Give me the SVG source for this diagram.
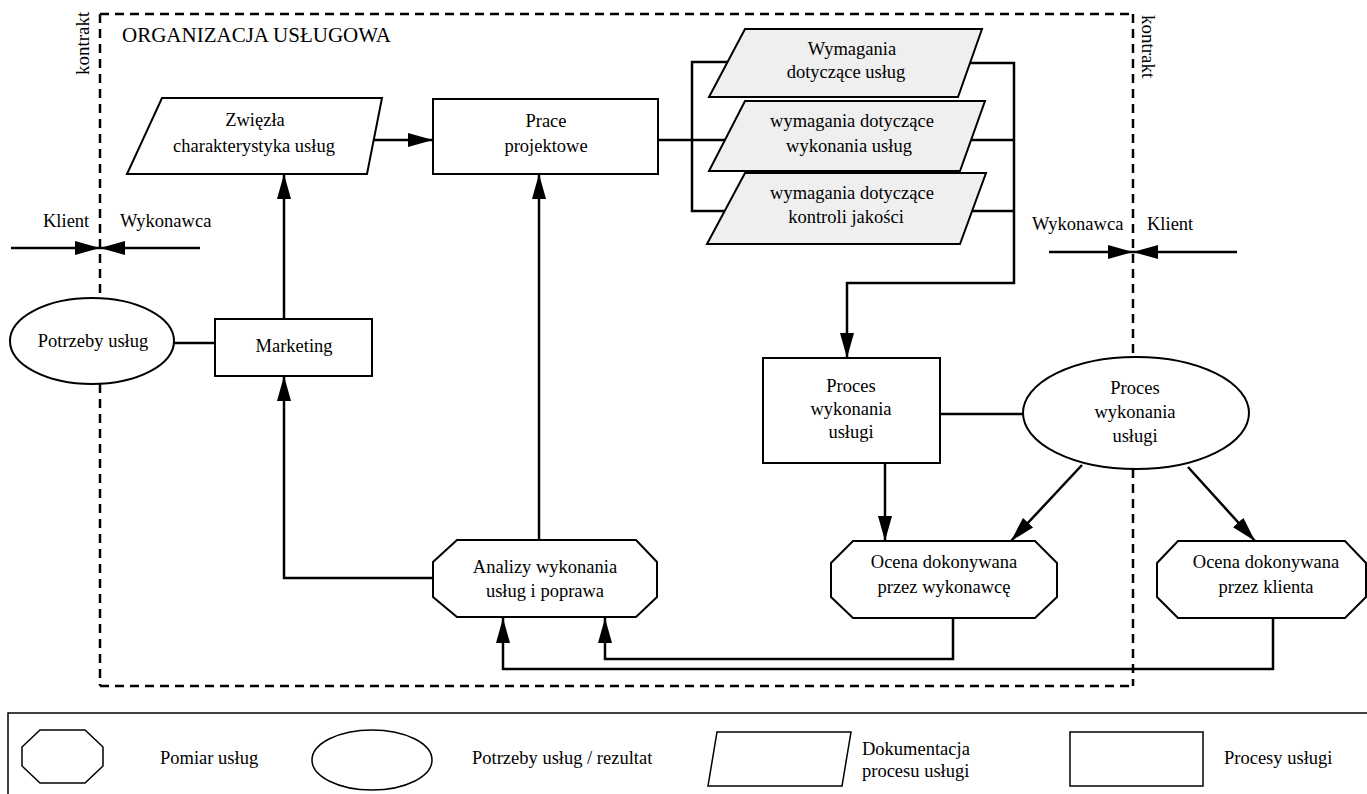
<svg xmlns="http://www.w3.org/2000/svg" width="1367" height="794" viewBox="0 0 1367 794" font-family="'Liberation Serif', 'DejaVu Serif', serif">
<style>
text{font-family:"Liberation Serif","DejaVu Serif",serif;font-size:18.5px;fill:#000}
.c{text-anchor:middle}
.shape{fill:#fff;stroke:#000;stroke-width:2}
.doc{fill:#efefef;stroke:#000;stroke-width:2}
.ln{fill:none;stroke:#000;stroke-width:2.5}
.dash{fill:none;stroke:#000;stroke-width:2.5;stroke-dasharray:9 6}
.thin{fill:none;stroke:#000;stroke-width:1.5}
</style>
<defs>
<marker id="ah" markerUnits="userSpaceOnUse" markerWidth="25" markerHeight="14" refX="25" refY="7" orient="auto">
<path d="M0,0 L25,7 L0,14 z" fill="#000"/>
</marker>
</defs>
<rect width="1367" height="794" fill="#fff"/>

<g id="frame">
<line class="dash" x1="100" y1="14" x2="1133" y2="14"/>
<line class="dash" x1="100" y1="14" x2="100" y2="298"/>
<line class="dash" x1="100" y1="384" x2="100" y2="686"/>
<line class="dash" x1="1133" y1="14" x2="1133" y2="358"/>
<line class="dash" x1="1133" y1="469" x2="1133" y2="686"/>
<line class="dash" x1="100" y1="686" x2="1133" y2="686"/>
<text x="122" y="42" font-family="'Liberation Serif', serif" style="font-size:21px">ORGANIZACJA USŁUGOWA</text>
<text transform="translate(89,75) rotate(-90)" style="font-size:19px">kontrakt</text>
<text transform="translate(1142,15) rotate(90)" style="font-size:19px">kontrakt</text>
<text x="43" y="227">Klient</text>
<text x="120" y="227">Wykonawca</text>
<text x="1032" y="230">Wykonawca</text>
<text x="1147" y="230">Klient</text>
</g>

<g id="connectors">
<line class="ln" x1="11" y1="248" x2="100" y2="248" marker-end="url(#ah)"/>
<line class="ln" x1="200" y1="248" x2="100" y2="248" marker-end="url(#ah)"/>
<line class="ln" x1="1049" y1="252" x2="1133" y2="252" marker-end="url(#ah)"/>
<line class="ln" x1="1237" y1="252" x2="1133" y2="252" marker-end="url(#ah)"/>
<line class="ln" x1="367" y1="140" x2="433" y2="140" marker-end="url(#ah)"/>
<line class="ln" x1="284" y1="319" x2="284" y2="174" marker-end="url(#ah)"/>
<line class="ln" x1="174" y1="343" x2="215" y2="343"/>
<polyline class="ln" points="433,578 284,578 284,376" marker-end="url(#ah)"/>
<line class="ln" x1="539" y1="540" x2="539" y2="174" marker-end="url(#ah)"/>
<line class="ln" x1="658" y1="140" x2="725" y2="140"/>
<polyline class="ln" points="727,62 692,62 692,211 725,211"/>
<polyline class="ln" points="970,63 1014,63 1014,283 847,283 847,358" marker-end="url(#ah)"/>
<line class="ln" x1="971" y1="140" x2="1014" y2="140"/>
<line class="ln" x1="972" y1="211" x2="1014" y2="211"/>
<line class="ln" x1="940" y1="414" x2="1023" y2="414"/>
<line class="ln" x1="885" y1="463" x2="885" y2="541" marker-end="url(#ah)"/>
<line class="ln" x1="1082" y1="465" x2="1011" y2="541" marker-end="url(#ah)"/>
<line class="ln" x1="1188" y1="467" x2="1255" y2="541" marker-end="url(#ah)"/>
<polyline class="ln" points="953,618 953,659 605,659 605,618" marker-end="url(#ah)"/>
<polyline class="ln" points="1273,618 1273,669 503,669 503,618" marker-end="url(#ah)"/>
</g>

<g id="n-zwiezla">
<polygon class="shape" points="162,98 382,98 367,174 127,174"/>
<text class="c" x="255" y="126">Zwięzła</text>
<text class="c" x="254" y="152">charakterystyka usług</text>
</g>

<g id="n-prace">
<rect class="shape" x="433" y="99" width="225" height="75"/>
<text class="c" x="546" y="127">Prace</text>
<text class="c" x="546" y="152">projektowe</text>
</g>

<g id="n-wym1">
<polygon class="doc" points="745,29 982,29 958,97 709,97"/>
<text class="c" x="852" y="55">Wymagania</text>
<text class="c" x="846" y="78">dotyczące usług</text>
</g>

<g id="n-wym2">
<polygon class="doc" points="745,101 985,101 960,171 709,171"/>
<text class="c" x="852" y="127">wymagania dotyczące</text>
<text class="c" x="849" y="152">wykonania usług</text>
</g>

<g id="n-wym3">
<polygon class="doc" points="745,173 986,173 960,244 707,244"/>
<text class="c" x="852" y="199">wymagania dotyczące</text>
<text class="c" x="846" y="223">kontroli jakości</text>
</g>

<g id="n-potrzeby">
<ellipse class="shape" cx="92" cy="341" rx="82" ry="43"/>
<text class="c" x="93" y="347">Potrzeby usług</text>
</g>

<g id="n-marketing">
<rect class="shape" x="215" y="319" width="157" height="57"/>
<text class="c" x="294" y="352">Marketing</text>
</g>

<g id="n-proces-box">
<rect class="shape" x="763" y="358" width="177" height="105"/>
<text class="c" x="851" y="392">Proces</text>
<text class="c" x="851" y="415">wykonania</text>
<text class="c" x="851" y="438">usługi</text>
</g>

<g id="n-proces-ell">
<ellipse class="shape" cx="1136" cy="413" rx="113" ry="56"/>
<text class="c" x="1135" y="394">Proces</text>
<text class="c" x="1135" y="418">wykonania</text>
<text class="c" x="1135" y="442">usługi</text>
</g>

<g id="n-analizy">
<polygon class="shape" points="457,540 636,540 657,562 657,597 636,617 457,617 433,597 433,562"/>
<text class="c" x="545" y="573">Analizy wykonania</text>
<text class="c" x="545" y="597">usług i poprawa</text>
</g>

<g id="n-ocena-wyk">
<polygon class="shape" points="853,541 1035,541 1057,563 1057,597 1035,618 853,618 831,597 831,563"/>
<text class="c" x="944" y="568">Ocena dokonywana</text>
<text class="c" x="944" y="593">przez wykonawcę</text>
</g>

<g id="n-ocena-kl">
<polygon class="shape" points="1178,541 1345,541 1366,563 1366,597 1345,618 1178,618 1157,597 1157,563"/>
<text class="c" x="1266" y="568">Ocena dokonywana</text>
<text class="c" x="1266" y="593">przez klienta</text>
</g>

<g id="legend">
<polyline class="thin" points="8,794 8,713 1367,713"/>
<polygon class="thin" points="40,730 85,730 103,747 103,766 85,783 40,783 22,766 22,747"/>
<text x="160" y="764">Pomiar usług</text>
<ellipse class="thin" cx="372" cy="760" rx="60" ry="30"/>
<text x="472" y="764">Potrzeby usług  / rezultat</text>
<polygon class="thin" points="717,732 851,732 842,786 708,786"/>
<text x="862" y="755">Dokumentacja</text>
<text x="862" y="777">procesu usługi</text>
<rect class="thin" x="1070" y="732" width="133" height="54"/>
<text x="1224" y="764">Procesy usługi</text>
</g>
</svg>
